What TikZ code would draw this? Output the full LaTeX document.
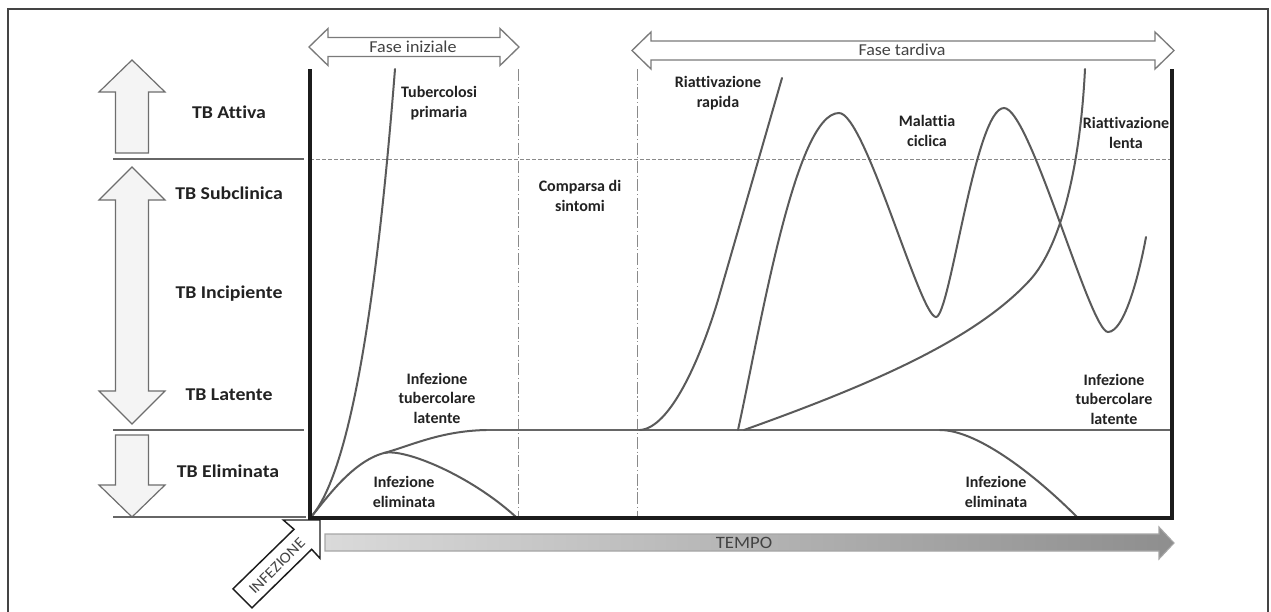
\documentclass[tikz,border=0pt]{standalone}
\usepackage{fontspec}
\setmainfont{Carlito}[Ligatures=NoCommon]
\newfontfamily\tbfont[FakeStretch=1.1,Ligatures=NoCommon]{Carlito}
\newfontfamily\phfont[FakeStretch=1.08,Ligatures=NoCommon]{Carlito}
\definecolor{txt}{HTML}{222222}
\definecolor{crvgray}{HTML}{5A5A5A}
\definecolor{sepgray}{HTML}{666666}
\definecolor{arrgray}{HTML}{6E6E6E}
\definecolor{arrfill}{HTML}{F4F4F4}
\definecolor{phgray}{HTML}{7A7A7A}
\definecolor{axblack}{HTML}{1C1C1C}
\definecolor{dashgray}{HTML}{8A8A8A}
\definecolor{framegray}{HTML}{444444}
\definecolor{tmpleft}{HTML}{DADADA}
\definecolor{tmpright}{HTML}{8E8E8E}
\begin{document}
\begin{tikzpicture}[x=0.75pt,y=-0.75pt,
  lbl/.style={font=\bfseries\fontsize{12}{14.6}\selectfont, align=center, text=txt, inner sep=0pt},
  tblbl/.style={font=\tbfont\bfseries\fontsize{13.5}{16}\selectfont, text=txt, inner sep=0pt},
  phlbl/.style={font=\phfont\fontsize{12.5}{15}\selectfont, text=txt!85, inner sep=0pt},
  crv/.style={draw=crvgray, line width=1.5pt, line cap=round},
  sep/.style={draw=sepgray, line width=1.5pt},
  bigarr/.style={draw=arrgray, fill=arrfill, line width=0.9pt, line join=miter},
  phase/.style={draw=phgray, fill=white, line width=1pt, line join=miter},
  axisln/.style={draw=axblack, line width=3.5pt, line join=miter},
  dashln/.style={draw=dashgray, line width=0.6pt, dash pattern=on 3pt off 1.5pt},
  dashdot/.style={draw=dashgray, line width=0.6pt, dash pattern=on 9pt off 2pt on 0.8pt off 2pt},
]
\useasboundingbox (0,0) rectangle (1271,611);
\fill[white] (0,0) rectangle (1271,611);
% frame
\draw[framegray, line width=0.9pt] (8,640) -- (8,9) -- (1268,9) -- (1268,640);

% left big arrows
\draw[bigarr] (132,60) -- (165,92) -- (148.5,92) -- (148.5,153) -- (115.5,153) -- (115.5,92) -- (99,92) -- cycle;
\draw[bigarr] (132,167) -- (165,200) -- (148.5,200) -- (148.5,391) -- (165,391) -- (132,424) -- (99,391) -- (115.5,391) -- (115.5,200) -- (99,200) -- cycle;
\draw[bigarr] (115.5,435) -- (148.5,435) -- (148.5,485) -- (165,485) -- (132,517) -- (99,485) -- (115.5,485) -- cycle;

% separators
\draw[sep] (113,159) -- (304,159);
\draw[sep] (113,430) -- (304,430);
\draw[sep] (113,517) -- (306,517);

% TB labels
\node[tblbl] (attiva) at (229,112) {TB Attiva};
\node[tblbl] (subcl) at (229,193) {TB Subclinica};
\node[tblbl] (incip) at (229,294) {TB Incipiente};
\node[tblbl] (laten) at (229,395) {TB Latente};
\node[tblbl] (elim) at (228,471) {TB Eliminata};

% phase arrows
\draw[phase] (309,47) -- (328,28.5) -- (328,37.5) -- (500,37.5) -- (500,28.5) -- (519,47) -- (500,65.5) -- (500,56.5) -- (328,56.5) -- (328,65.5) -- cycle;
\node[phlbl] (iniz) at (413,47) {Fase iniziale};
\draw[phase] (632,50.5) -- (651,32) -- (651,41) -- (1155,41) -- (1155,32) -- (1174,50.5) -- (1155,69) -- (1155,60) -- (651,60) -- (651,69) -- cycle;
\node[phlbl] (tard) at (902,50) {Fase tardiva};

% guide lines
\draw[dashln] (310,159) -- (1172,159);
\draw[dashdot] (518.5,69) -- (518.5,518);
\draw[dashdot] (637.5,69) -- (637.5,518);

% latent line
\draw[sep] (486,430) -- (1172,430);

% curves, early phase
\coordinate (split) at (384,453);
\draw[crv] (310,518) .. controls (355,470) and (380,260) .. (395,69);
\draw[crv] (310,518) .. controls (322,505) and (350,462) .. (split)
  .. controls (410,446) and (440,431) .. (486,430);
\draw[crv] (split) .. controls (404,448) and (470,475) .. (516,517);

% late phase
\draw[crv] (640,430) .. controls (670,428) and (700,360) .. (718,300) -- (782,78);
\draw[crv] (738,430) .. controls (760,330) and (795,113) .. (839,113)
  .. controls (865,113) and (920,317) .. (936,317)
  .. controls (950,317) and (975,108) .. (1004,108)
  .. controls (1030,108) and (1090,332) .. (1108,332)
  .. controls (1125,332) and (1140,270) .. (1146,237);
\draw[crv] (744,430) .. controls (870,385) and (975,340) .. (1030,280)
  .. controls (1060,247) and (1080,170) .. (1085,69);
\draw[crv] (940,430) .. controls (975,430) and (1030,470) .. (1077,517);

% plot labels
\node[lbl] (tbprim) at (439,103) {Tubercolosi\\primaria};
\node[lbl] (compar) at (580,196) {Comparsa di\\sintomi};
\node[lbl] (itl1) at (437,398) {Infezione\\tubercolare\\latente};
\node[lbl] (ie1) at (404,492) {Infezione\\eliminata};
\node[lbl] (rrap) at (718,93) {Riattivazione\\rapida};
\node[lbl] (mcic) at (927,131) {Malattia\\ciclica};
\node[lbl] (rlen) at (1126,133) {Riattivazione\\lenta};
\node[lbl] (itl2) at (1114,399) {Infezione\\tubercolare\\latente};
\node[lbl] (ie2) at (996,492) {Infezione\\eliminata};

% TEMPO arrow
\path[draw=gray!70, line width=0.8pt, left color=tmpleft, right color=tmpright]
  (325,534) -- (1159,534) -- (1159,527) -- (1174,543) -- (1159,559) -- (1159,551) -- (325,551) -- cycle;
\node[phlbl, font=\phfont\fontsize{13}{15}\selectfont] (tempo) at (744,542.5) {TEMPO};

% INFEZIONE arrow
\draw[draw=axblack, fill=white, line width=1.1pt, line join=miter]
  (320,520) -- (320,558.3) -- (311.7,549.3) -- (252,607.8) -- (233,588.8) -- (294,529.3) -- (283.3,520) -- cycle;
\node[phlbl, font=\phfont\fontsize{11.5}{13}\selectfont, rotate=45] (infez) at (277,566) {INFEZIONE};

% axes
\draw[axisln] (310,69) -- (310,518) -- (1172,518) -- (1172,69);
\end{tikzpicture}
\end{document}
